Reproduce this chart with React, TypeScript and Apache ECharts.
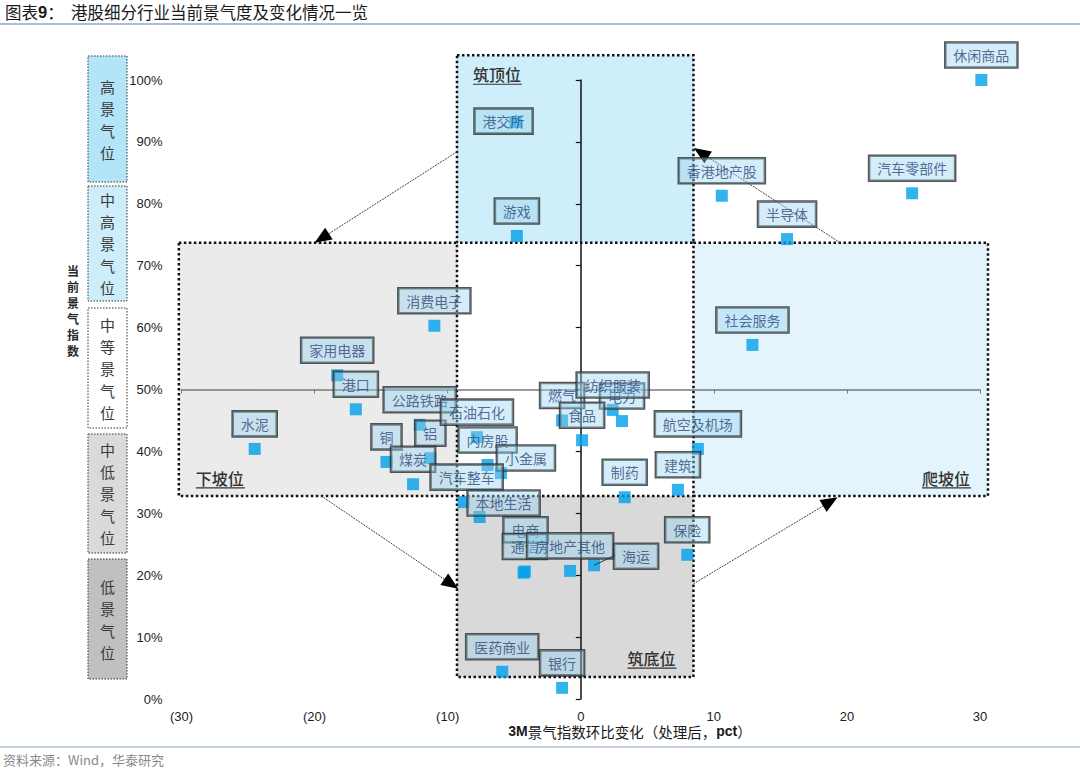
import React, { useEffect, useRef } from 'react';
import * as echarts from 'echarts';

// ---------------- data ----------------
const industries = [
  '休闲商品', '汽车零部件', '香港地产股', '半导体', '港交所', '游戏', '消费电子', '家用电器',
  '港口', '水泥', '公路铁路', '铝', '铜', '煤炭', '石油石化', '内房股', '小金属', '汽车整车',
  '本地生活', '电商', '通信', '房地产其他', '海运', '保险', '建筑', '航空及机场', '社会服务',
  '制药', '燃气', '电力', '食品', '纺织服装', '医药商业', '银行',
];
// 3M change of prosperity index (pct)
const changeValues = [
  30.1, 24.9, 10.6, 15.5, -4.9, -4.8, -11.0, -18.3,
  -16.9, -24.5, -12.1, -11.3, -14.6, -12.6, -7.8, -7.0, -6.0, -8.8,
  -7.6, -4.3, -4.2, -0.8, 1.0, 8.0, 7.3, 8.8, 12.9,
  3.3, -1.4, 3.1, 0.1, 2.4, -5.9, -1.4,
];
// current prosperity index (%)
const levelValues = [
  100, 81.7, 81.3, 74.3, 93.2, 74.8, 60.3, 52.3,
  46.8, 40.4, 44.3, 38.9, 38.3, 34.7, 42.3, 37.8, 36.5, 31.8,
  29.4, 20.4, 20.6, 20.7, 21.6, 23.3, 33.8, 40.4, 57.2,
  32.6, 45.0, 44.9, 41.8, 46.7, 4.4, 1.8,
];

const xMin = -30;
const xMax = 30;
const xInterval = 10;
const yMin = 0;
const yMax = 100;
const yInterval = 10;

// zones: [xFrom, xTo, yFrom, yTo]
const zoneNames = ['筑顶位', '下坡位', '爬坡位', '筑底位'];
const zoneBounds = [
  [-9.3, 8.47, 73.7, 104.0],
  [-30.2, -9.3, 32.8, 73.7],
  [8.47, 30.6, 32.8, 73.7],
  [-9.3, 8.47, 3.55, 32.8],
];
// arrows: [xFrom, yFrom, xTo, yTo]
const arrowPaths = [
  [-9.3, 88.4, -20.0, 73.7],
  [-19.5, 32.8, -9.2, 17.8],
  [8.47, 18.6, 19.3, 32.6],
  [19.5, 73.7, 8.5, 89.0],
];

const levelBands = ['高景气位', '中高景气位', '中等景气位', '中低景气位', '低景气位'];

// ---------------- layout / style ----------------
const zoneFills = ['#cdeefa', '#ebebeb', '#e3f4fc', '#d9d9d9'];
// label anchor corner and pixel offset for zone captions
const zoneCaptionLayout: Array<[string, number, number]> = [
  ['tl', 16, 19],
  ['bl', 17, -18],
  ['br', -66, -18],
  ['br', -66, -19],
];
const bandLayout = [
  { y1: 56, y2: 182, fill: '#b3e4f7' },
  { y1: 186, y2: 301, fill: '#ccedf9' },
  { y1: 308, y2: 428, fill: '#ffffff' },
  { y1: 434, y2: 553, fill: '#dadada' },
  { y1: 559, y2: 679, fill: '#c0c0c0' },
];
const labelOffsets: Record<string, [number, number]> = {
  '港交所': [-12, -1],
  '小金属': [25, -15],
  '本地生活': [24, -14],
  '电商': [2, -43],
  '海运': [42, -9],
  '汽车整车': [3, -25],
};
const defaultOffset: [number, number] = [0, -25];
const leaderLabel = '海运';
const leaderEnd: [number, number] = [21, -10];

const CJK = '"Noto Sans CJK SC", "Noto Sans", sans-serif';
const LATIN = '"Liberation Sans", Arial, sans-serif';

function buildOption(): any {
  const scatterData = industries.map((name, i) => ({ name, value: [changeValues[i], levelValues[i]] }));
  const leaderIdx = industries.indexOf(leaderLabel);

  const graphics: any[] = [
    {
      type: 'text',
      left: 5,
      top: 3,
      style: {
        text: '{a|图表}{b|9}{a|：  港股细分行业当前景气度及变化情况一览}',
        rich: {
          a: { fontFamily: CJK, fontSize: 16.5, fill: '#1a1a1a' },
          b: { fontFamily: LATIN, fontSize: 16.5, fill: '#1a1a1a', fontWeight: 'bold' },
        },
      },
    },
    { type: 'line', shape: { x1: 0, y1: 24, x2: 1080, y2: 24 }, style: { stroke: '#8ea9cf', lineWidth: 1.5 } },
    { type: 'line', shape: { x1: 0, y1: 747, x2: 1080, y2: 747 }, style: { stroke: '#8ea9cf', lineWidth: 1.2 } },
    {
      type: 'text',
      left: 3,
      top: 753,
      style: {
        text: '资料来源：Wind，华泰研究',
        fontFamily: CJK,
        fontSize: 13,
        fill: '#8a8a8a',
      },
    },
    {
      type: 'text',
      x: 73,
      y: 310,
      style: {
        text: '当\n前\n景\n气\n指\n数',
        fontFamily: CJK,
        fontSize: 12,
        lineHeight: 16,
        fontWeight: 'bold',
        fill: '#2a2a2a',
        align: 'center',
        verticalAlign: 'middle',
      },
    },
    {
      type: 'text',
      x: 630,
      y: 731,
      style: {
        text: '{b|3M}{n|景气指数环比变化（处理后，}{b|pct}{n|）}',
        align: 'center',
        verticalAlign: 'middle',
        rich: {
          b: { fontFamily: LATIN, fontSize: 14, fontWeight: 'bold', fill: '#1a1a1a' },
          n: { fontFamily: CJK, fontSize: 14.5, fill: '#1a1a1a' },
        },
      },
    },
  ];

  levelBands.forEach((name, i) => {
    const b = bandLayout[i];
    graphics.push({
      type: 'rect',
      shape: { x: 88, y: b.y1, width: 39, height: b.y2 - b.y1 },
      style: { fill: b.fill, stroke: '#333', lineWidth: 1, lineDash: [1.5, 1.5] },
    });
    graphics.push({
      type: 'text',
      x: 107.5,
      y: (b.y1 + b.y2) / 2,
      style: {
        text: name.split('').join('\n'),
        fontFamily: CJK,
        fontSize: 15,
        lineHeight: 22,
        fill: '#3a3a3a',
        align: 'center',
        verticalAlign: 'middle',
      },
    });
  });

  const zoneSeries = {
    type: 'custom',
    xAxisIndex: 0,
    yAxisIndex: 0,
    z: 1,
    silent: true,
    clip: false,
    data: zoneBounds,
    renderItem: (params: any, api: any) => {
      const i = params.dataIndex;
      const tl = api.coord([api.value(0), api.value(3)]);
      const br = api.coord([api.value(1), api.value(2)]);
      const [corner, dx, dy] = zoneCaptionLayout[i];
      const ax = corner.indexOf('l') >= 0 ? tl[0] : br[0];
      const ay = corner.indexOf('t') >= 0 ? tl[1] : br[1];
      const tx = ax + dx;
      const ty = ay + dy;
      return {
        type: 'group',
        children: [
          {
            type: 'rect',
            shape: { x: tl[0], y: tl[1], width: br[0] - tl[0], height: br[1] - tl[1] },
            style: { fill: zoneFills[i], stroke: '#111', lineWidth: 2.5, lineDash: [2.5, 2.5] },
          },
          {
            type: 'text',
            x: tx,
            y: ty,
            style: {
              text: zoneNames[i],
              fontFamily: CJK,
              fontSize: 16,
              fontWeight: 500,
              fill: '#333',
              align: 'left',
              verticalAlign: 'middle',
            },
          },
          {
            type: 'line',
            shape: { x1: tx, y1: ty + 10, x2: tx + 49, y2: ty + 10 },
            style: { stroke: '#333', lineWidth: 1.2 },
          },
        ],
      };
    },
  };

  const arrowSeries = {
    type: 'custom',
    xAxisIndex: 0,
    yAxisIndex: 0,
    z: 6,
    silent: true,
    clip: false,
    data: arrowPaths,
    renderItem: (params: any, api: any) => {
      const p0 = api.coord([api.value(0), api.value(1)]);
      const p1 = api.coord([api.value(2), api.value(3)]);
      const dxv = p1[0] - p0[0];
      const dyv = p1[1] - p0[1];
      const len = Math.sqrt(dxv * dxv + dyv * dyv);
      const ux = dxv / len;
      const uy = dyv / len;
      const headLen = 17;
      const headHalf = 7;
      const bx = p1[0] - ux * headLen;
      const by = p1[1] - uy * headLen;
      return {
        type: 'group',
        children: [
          {
            type: 'line',
            shape: { x1: p0[0], y1: p0[1], x2: bx, y2: by },
            style: { stroke: '#444', lineWidth: 1, lineDash: [2, 1] },
          },
          {
            type: 'polygon',
            shape: {
              points: [
                [p1[0], p1[1]],
                [bx - uy * headHalf, by + ux * headHalf],
                [bx + uy * headHalf, by - ux * headHalf],
              ],
            },
            style: { fill: '#000' },
          },
        ],
      };
    },
  };

  const leaderSeries = {
    type: 'custom',
    xAxisIndex: 0,
    yAxisIndex: 0,
    z: 8,
    silent: true,
    clip: false,
    data: [[changeValues[leaderIdx], levelValues[leaderIdx]]],
    renderItem: (params: any, api: any) => {
      const p = api.coord([api.value(0), api.value(1)]);
      return {
        type: 'line',
        shape: { x1: p[0], y1: p[1], x2: p[0] + leaderEnd[0], y2: p[1] + leaderEnd[1] },
        style: { stroke: '#333', lineWidth: 1 },
      };
    },
  };

  return {
    animation: false,
    backgroundColor: '#ffffff',
    grid: { left: 181.5, right: 100, top: 80, bottom: 74, containLabel: false },
    xAxis: [
      {
        type: 'value',
        min: xMin,
        max: xMax,
        interval: xInterval,
        position: 'bottom',
        axisLine: { show: false, onZero: false },
        axisTick: { show: false },
        splitLine: { show: false },
        axisLabel: {
          formatter: (v: number) => (v < 0 ? `(${-v})` : `${v}`),
          fontFamily: LATIN,
          fontSize: 13,
          color: '#222',
          margin: 11,
        },
      },
      {
        type: 'value',
        min: xMin,
        max: xMax,
        interval: xInterval,
        position: 'bottom',
        z: 5,
        axisLine: { show: true, onZero: true, onZeroAxisIndex: 2, lineStyle: { color: '#7a7a7a', width: 1.5 } },
        axisTick: { show: true, length: 4, lineStyle: { color: '#7a7a7a', width: 1 } },
        axisLabel: { show: false },
        splitLine: { show: false },
      },
    ],
    yAxis: [
      {
        type: 'value',
        min: yMin,
        max: yMax,
        interval: yInterval,
        position: 'left',
        axisLine: { show: false, onZero: false },
        axisTick: { show: false },
        splitLine: { show: false },
        axisLabel: {
          formatter: '{value}%',
          fontFamily: LATIN,
          fontSize: 13,
          color: '#222',
          margin: 19,
        },
      },
      {
        type: 'value',
        min: yMin,
        max: yMax,
        interval: yInterval,
        position: 'left',
        z: 5,
        axisLine: { show: true, onZero: true, onZeroAxisIndex: 0, lineStyle: { color: '#111', width: 1.5 } },
        axisTick: { show: true, length: 5, lineStyle: { color: '#111', width: 1.2 } },
        axisLabel: { show: false },
        splitLine: { show: false },
      },
      {
        type: 'value',
        min: -50,
        max: 50,
        position: 'right',
        axisLine: { show: false, onZero: false },
        axisTick: { show: false },
        axisLabel: { show: false },
        splitLine: { show: false },
      },
    ],
    graphic: graphics,
    series: [
      zoneSeries,
      arrowSeries,
      {
        type: 'scatter',
        xAxisIndex: 0,
        yAxisIndex: 0,
        z: 7,
        clip: false,
        symbol: 'rect',
        symbolSize: 12,
        itemStyle: { color: '#00a0e9' },
        data: scatterData,
        label: {
          show: true,
          position: 'inside',
          formatter: '{b}',
          fontFamily: CJK,
          fontSize: 14,
          lineHeight: 15,
          color: '#2c4a7c',
          backgroundColor: 'rgba(150, 210, 238, 0.5)',
          borderColor: '#2a2a2a',
          borderWidth: 1.3,
          padding: [5, 8],
        },
        labelLayout: (params: any) => {
          const off = labelOffsets[industries[params.dataIndex]] || defaultOffset;
          return { dx: off[0], dy: off[1] };
        },
      },
      leaderSeries,
    ],
  };
}

export default function App() {
  const ref = useRef<HTMLDivElement>(null);
  useEffect(() => {
    if (!ref.current) return;
    const chart = echarts.init(ref.current, null, { renderer: 'svg' });
    chart.setOption(buildOption());
    return () => {
      chart.dispose();
    };
  }, []);
  return (
    <div
      ref={ref}
      style={{ position: 'absolute', left: 0, top: 0, width: 1080, height: 773, background: '#fff' }}
    />
  );
}
